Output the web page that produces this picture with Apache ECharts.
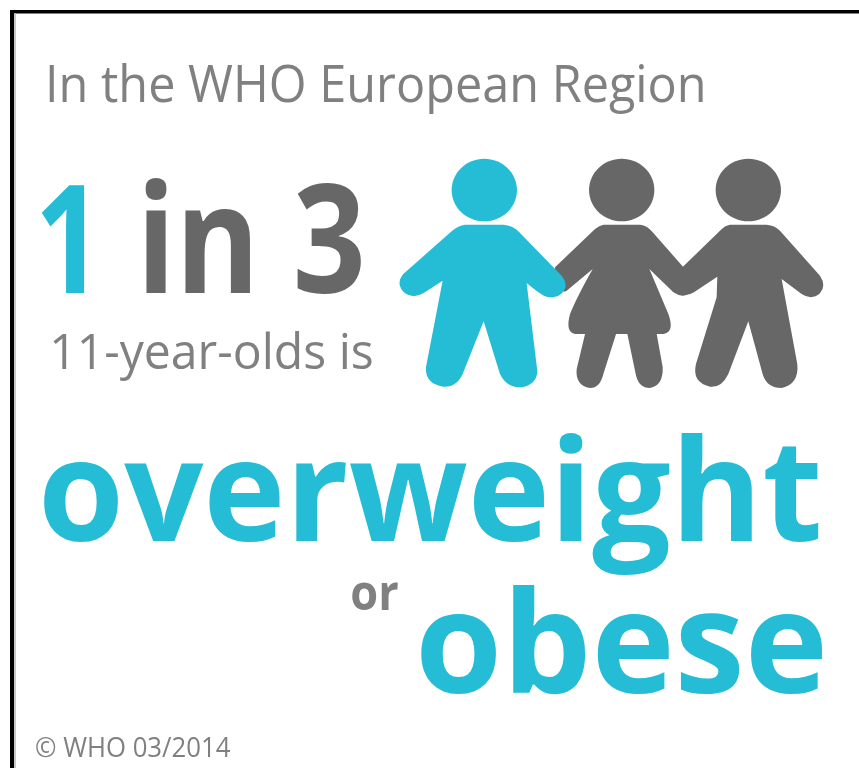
<!DOCTYPE html>
<html><head><meta charset="utf-8">
<style>html,body{margin:0;padding:0;background:#fff}#c{width:859px;height:768px}</style>
<script src="https://cdn.jsdelivr.net/npm/echarts@6/dist/echarts.min.js"></script>
</head><body><div id="c"></div>
<script>
const children = ['Child 1', 'Child 2', 'Child 3'];
const affected = [1, 0, 0];
const heading = 'In the WHO European Region';
const countText = '1';
const ofText = 'in 3';
const ageText = '11-year-olds is';
const word1 = 'overweight';
const joinText = 'or';
const word2 = 'obese';
const credit = '\u00A9 WHO 03/2014';

const CYAN = '#25BCD6', DARK = '#676767', GREY = '#808080';
const FONT = '"Open Sans"';

// figure outlines, in a 3x drawing space
const figures = [
  {head:[283,118,98,94], d:'M225 222L340 222Q368 224 385 242L515 375Q535 400 522 420Q505 445 470 438Q455 435 410 397L442 660Q442 700 395 710Q350 712 330 670L281 512L218 670Q200 710 160 708Q105 700 108 650L158 390L100 428Q70 445 45 428Q15 400 40 370L185 242Q205 224 225 222Z'},
  {head:[695,118,98,94], d:'M640 222L750 222Q772 224 788 245L900 372Q915 400 900 425Q880 445 850 425L778 355L835 490Q855 545 820 550L800 550L818 650Q820 705 780 712Q745 712 737 670L712 550L678 550L640 670Q630 712 600 712Q555 705 560 655L585 550L555 550Q525 545 540 490Q560 440 608 355L530 420Q510 430 495 400L495 350L615 235Q628 224 640 222Z'},
  {head:[1075,118,98,94], d:'M1020 222L1130 222Q1155 224 1170 240L1290 375Q1310 405 1290 428Q1265 450 1235 430L1175 385L1222 640Q1228 700 1175 712Q1130 712 1118 670L1075 512L1015 670Q995 712 960 708Q905 695 918 640L980 440L982 378L912 425Q880 445 852 420Q850 390 875 352L990 240Q1005 224 1020 222Z'}
];
// offset of each figure's centre in the 3x space
const figCx = [283, 695, 1075], figDx = [0.3, 5.7, 0.3], figBase = 712;

const ctx = document.createElement('canvas').getContext('2d');
function fit(text, x0, x1, baseline, size, weight, color) {
  const font = weight + ' ' + size + 'px ' + FONT;
  ctx.font = font;
  const m = ctx.measureText(text);
  const inkW = m.actualBoundingBoxRight + m.actualBoundingBoxLeft;
  const s = (x1 - x0) / inkW;
  return {
    type: 'text', silent: true,
    x: x0 + m.actualBoundingBoxLeft * s, y: baseline - size * 0.28,
    scaleX: s, originX: 0, originY: 0,
    style: {text, font, fill: color, align: 'left', verticalAlign: 'middle'}
  };
}

const chart = echarts.init(document.getElementById('c'), null, {renderer: 'canvas'});
chart.setOption({
  backgroundColor: '#fff',
  animation: false,
  grid: {left: 418, width: 396, top: 158, height: 230},
  xAxis: {type: 'category', data: children, show: false, boundaryGap: true},
  yAxis: {type: 'value', min: 0, max: 1, show: false},
  series: [{
    type: 'custom',
    coordinateSystem: 'cartesian2d',
    clip: false,
    silent: true,
    data: affected.map((v, i) => [i, 0, v]),
    encode: {x: 0, y: 1},
    renderItem(params, api) {
      const i = api.value(0);
      const p = api.coord([i, 0]);
      const f = figures[i];
      const col = api.value(2) ? CYAN : DARK;
      const z2 = api.value(2) ? 5 : 1;
      const tx = v => p[0] + figDx[i] + (v - figCx[i]) / 3;
      const ty = v => p[1] + (v - figBase) / 3;
      const bb = echarts.graphic.makePath(f.d, {}).getBoundingRect();
      return {
        type: 'group',
        children: [
          {type: 'ellipse', z2, shape: {cx: tx(f.head[0]), cy: ty(f.head[1]), rx: f.head[2] / 3, ry: f.head[3] / 3}, style: {fill: col}},
          {type: 'path', z2, shape: {pathData: f.d, x: tx(bb.x), y: ty(bb.y), width: bb.width / 3, height: bb.height / 3, layout: 'cover'}, style: {fill: col}}
        ]
      };
    }
  }],
  graphic: [
    {type: 'rect', silent: true, shape: {x: 10, y: 10, width: 849, height: 3.5}, style: {fill: '#000'}},
    {type: 'rect', silent: true, shape: {x: 10, y: 10, width: 4, height: 758}, style: {fill: '#000'}},
    {type: 'rect', silent: true, shape: {x: 14, y: 13.5, width: 2, height: 755}, style: {fill: '#c8c8c8'}},
    fit(heading, 49.7, 703, 102, 52, 400, GREY),
    fit(countText, 41, 84, 292, 150, 700, CYAN),
    fit(ofText, 145, 361, 292, 150, 700, DARK),
    fit(ageText, 53, 372, 369, 50, 400, GREY),
    fit(word1, 44, 819, 540, 142, 700, CYAN),
    fit(joinText, 352, 398, 610, 50, 700, GREY),
    fit(word2, 421, 822, 692, 142, 700, CYAN),
    fit(credit, 36, 230, 757, 27, 400, GREY)
  ]
});
</script></body></html>
